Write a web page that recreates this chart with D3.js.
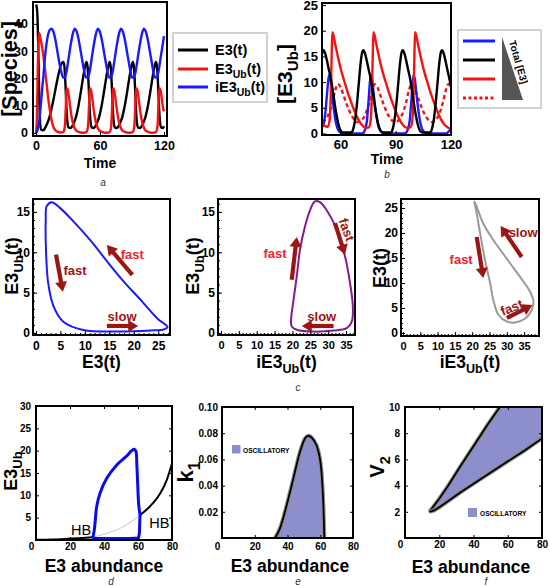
<!DOCTYPE html>
<html><head><meta charset="utf-8">
<script src="https://cdn.jsdelivr.net/npm/d3@7"></script>
<style>body{margin:0;background:#fff}svg{display:block}</style>
</head><body><svg id="c" width="550" height="586"></svg>
<script>
// ---------------- DATA ----------------
// Panel a: time courses [t, value]
const aE3 = [[0,47],[0.8,46],[1.6,40],[2.4,26],[3.2,11],[4,3],[5,1.2],[6.5,1],[8,1.5],[10,3],[12,5],[14,8],[16,11.5],[18,15.5],[20,19.5],[22,23],[24,25.5],[25.6,26],
 [26.6,24.5],[27.6,18],[28.6,9],[29.6,3.5],[30.6,2],[32.1,1.8],[33.6,2.3],[35.6,3.8],[37.6,6],[39.6,9.5],[41.6,14],[43.6,19],[45.6,23.5],[47.3,26],
 [48.3,24.5],[49.3,18],[50.3,9],[51.3,3.5],[52.3,2],[53.8,1.8],[55.3,2.3],[57.3,3.8],[59.3,6],[61.3,9.5],[63.3,14],[65.3,19],[67.3,23.5],[69,26],
 [70,24.5],[71,18],[72,9],[73,3.5],[74,2],[75.5,1.8],[77,2.3],[79,3.8],[81,6],[83,9.5],[85,14],[87,19],[89,23.5],[90.7,26],
 [91.7,24.5],[92.7,18],[93.7,9],[94.7,3.5],[95.7,2],[97.2,1.8],[98.7,2.3],[100.7,3.8],[102.7,6],[104.7,9.5],[106.7,14],[108.7,19],[110.7,23.5],[112.4,26],
 [113.4,24.5],[114.4,18],[115.4,9],[116.4,3.5],[117.4,2],[118.9,1.8],[120,2.5]];
const aE3Ub = [[0,0],[0.8,5],[1.6,22],[2.4,34],[3.1,36.6],[4,35],[5.5,32],[7,28],[8.5,23],[10,18],[11.5,12.5],[13,8.4],[14.5,5],[16,2.5],[18,1.1],[20,0.5],[23,0.2],[25.6,0.3],
 [26.4,1],[27.2,3],[27.9,9],[28.5,15],[29.1,16.3],[29.8,15.8],[30.6,14],[31.6,11],[32.6,8],[33.6,5.5],[35.1,3],[36.6,1.5],[38.6,0.6],[41.6,0.2],[44.6,0.1],[47.3,0.3],
 [48.1,1],[48.9,3],[49.6,9],[50.2,15],[50.8,16.3],[51.5,15.8],[52.3,14],[53.3,11],[54.3,8],[55.3,5.5],[56.8,3],[58.3,1.5],[60.3,0.6],[63.3,0.2],[66.3,0.1],[69,0.3],
 [69.8,1],[70.6,3],[71.3,9],[71.9,15],[72.5,16.3],[73.2,15.8],[74,14],[75,11],[76,8],[77,5.5],[78.5,3],[80,1.5],[82,0.6],[85,0.2],[88,0.1],[90.7,0.3],
 [91.5,1],[92.3,3],[93,9],[93.6,15],[94.2,16.3],[94.9,15.8],[95.7,14],[96.7,11],[97.7,8],[98.7,5.5],[100.2,3],[101.7,1.5],[103.7,0.6],[106.7,0.2],[109.7,0.1],[112.4,0.3],
 [113.2,1],[114,3],[114.7,9],[115.3,15],[115.9,16.3],[116.6,15.8],[117.4,14],[118.4,11],[119.2,9],[120,8]];
const aiE3Ub = [[0,0],[1,0.5],[2,2],[3,4],[4,8],[5,12.5],[6,17],[7,21],[8,26],[9,30],[10,33],[11,35.5],[12,37],[13.5,38],[14.7,38.2],[16,37.5],[18,34.5],[20,30],[22,25.5],[24,22],[25.6,20.3],
 [27.1,20.5],[28.6,22.5],[30.6,27.5],[32.6,32.5],[34.6,36.5],[36.4,38.2],[38.1,37.2],[40.1,34],[42.1,29.5],[44.1,25],[45.8,21.5],[47.3,20.3],
 [48.8,20.5],[50.3,22.5],[52.3,27.5],[54.3,32.5],[56.3,36.5],[58.1,38.2],[59.8,37.2],[61.8,34],[63.8,29.5],[65.8,25],[67.5,21.5],[68.9,20.3],
 [70.4,20.5],[71.9,22.5],[73.9,27.5],[75.9,32.5],[77.9,36.5],[79.7,38.2],[81.4,37.2],[83.4,34],[85.4,29.5],[87.4,25],[89,21.5],[90.4,20.3],
 [91.9,20.5],[93.4,22.5],[95.4,27.5],[97.4,32.5],[99.4,36.5],[101.2,38.2],[102.9,37.2],[104.9,34],[106.9,29.5],[108.9,25],[110.4,21.5],[111.8,20.3],
 [113.3,20.5],[114.8,22.5],[116.8,27.5],[118.8,32.5],[120,35.5]];
const aXTicks = [0,60,120], aYTicks = [0,10,20,30,40];

// Panel b: E3Ub for four total-E3 levels
const bBlue = [[50,1.2],[51,2],[51.8,4],[52.8,8],[53.8,11.4],[54.6,10.5],[55.5,7.5],[56.5,4.5],[57.5,2.2],[58.5,0.9],[60,0.2],[62,0],
 [72,0],[73.4,0.8],[74.4,2.5],[75.4,7],[76.4,11.4],[77.2,10.5],[78.1,7.5],[79.1,4.5],[80.1,2.2],[81.1,0.9],[82.6,0.2],[84.6,0],
 [95,0],[96.6,0.8],[97.6,2.5],[98.6,7],[99.6,11.4],[100.4,10.5],[101.3,7.5],[102.3,4.5],[103.3,2.2],[104.3,0.9],[105.8,0.2],[107.8,0],
 [117.5,0],[119,0.5],[120,1]];
const bBlack = [[50,15.5],[50.8,16.2],[51.8,15.5],[52.8,14],[53.8,12.3],[54.8,10.7],[55.8,8.5],[56.8,6],[57.8,3.8],[58.8,2],[59.8,0.8],[61.3,0.2],
 [65.9,0.2],[66.9,0.8],[67.9,2.5],[68.9,5.5],[69.9,9.5],[70.9,13.5],[71.8,15.8],[72.4,16.2],[73.4,15.5],[74.4,14],[75.4,12.3],[76.4,10.7],[77.4,8.5],[78.4,6],[79.4,3.8],[80.4,2],[81.4,0.8],[82.9,0.2],
 [87.3,0.2],[88.3,0.8],[89.3,2.5],[90.3,5.5],[91.3,9.5],[92.3,13.5],[93.2,15.8],[93.8,16.2],[94.8,15.5],[95.8,14],[96.8,12.3],[97.8,10.7],[98.8,8.5],[99.8,6],[100.8,3.8],[101.8,2],[102.8,0.8],[104.3,0.2],
 [108.6,0.2],[109.6,0.8],[110.6,2.5],[111.6,5.5],[112.6,9.5],[113.6,13.5],[114.5,15.8],[115.1,16.2],[116.1,15.5],[117.1,14],[118.1,12.3],[119.1,10.7],[120,9]];
const bRed = [[50,1.8],[52,1.4],[53.1,1.3],[54.1,2.5],[54.8,8],[55.3,16],[55.6,19.7],[56.1,19.3],[57.1,17.5],[58.6,15],[60.6,12],[62.6,9.6],[64.6,7.3],[66.1,5.8],[67.6,4.4],[69.6,2.8],[71.6,1.7],[73.6,1.1],[75.4,1.2],
 [76.4,2.5],[77.1,8],[77.6,16],[77.9,19.7],[78.4,19.3],[79.4,17.5],[80.9,15],[82.9,12],[84.9,9.6],[86.9,7.3],[88.4,5.8],[89.9,4.4],[91.9,2.8],[93.9,1.7],[95.9,1.1],[98,1.2],
 [99,2.5],[99.7,8],[100.2,16],[100.5,19.7],[101,19.3],[102,17.5],[103.5,15],[105.5,12],[107.5,9.6],[109.5,7.3],[111,5.8],[112.5,4.4],[114.5,2.8],[116.5,1.7],[118.5,1.1],[120,0.9]];
const bRedDashed = [[50,2.4],[51.6,2.6],[53.6,3.8],[55.6,6],[57.1,8.3],[58.6,9.6],[60.1,9],[61.6,7.5],[63.6,5.5],[65.6,3.8],[67.6,2.7],[69.6,2.2],
 [71.6,2.6],[73.6,3.8],[75.6,6],[77.1,8.3],[78.6,9.6],[80.1,9],[81.6,7.5],[83.6,5.5],[85.6,3.8],[87.6,2.7],[89.6,2.2],
 [91.6,2.6],[93.6,3.8],[95.6,6],[97.1,8.3],[98.6,9.6],[100.1,9],[101.6,7.5],[103.6,5.5],[105.6,3.8],[107.6,2.7],[109.6,2.2],
 [111.6,2.6],[113.6,3.8],[115.6,6],[117.1,8.3],[118.6,9.6],[120,9.2]];
const bXTicks = [60,90,120], bYTicks = [0,5,10,15,20,25];

// Panel c: phase-plane limit cycles [x, y]
const c1Loop = [[3.2,16.2],[2.2,15.7],[2.0,14],[2.05,10.3],[2.5,6.2],[3.6,3.3],[5.6,1.4],[9.7,0.37],[16.6,0.17],[23.4,0.3],[26.2,0.45],[26.9,0.75],[26.3,1.1],[24.8,1.8],[21.4,4.1],[17.9,6.4],[14.5,8.9],[11.1,11.5],[7.7,13.8],[4.9,15.5]];
const c2Loop = [[35.2,0.6],[31.5,0.3],[25.9,0.17],[21.2,0.4],[19.8,0.8],[19.6,1.6],[20.3,4.1],[21.2,7],[22.1,10.3],[23.5,13.2],[24.9,15.2],[26.3,16.3],[27.7,16.2],[29.6,15.2],[32.4,12.8],[34.7,9.5],[36.1,6.2],[36.9,3.3],[36.6,1.4]];
const c3Loop = [[20.6,26.3],[21.3,23.9],[22.3,19.9],[23.7,14.6],[25.2,9.9],[26.1,6.6],[27.6,3.6],[30,2.3],[32.4,2.1],[35.3,2.9],[37.2,4.6],[37.7,6.3],[36.7,8.3],[34.8,10.3],[31,13.9],[26.1,18.6],[23.2,21.9],[21.1,25.6]];
const c1XTicks = [0,5,10,15,20,25], c23XTicks = [0,5,10,15,20,25,30,35];
const c12YTicks = [0,5,10,15], c3YTicks = [0,5,10,15,20,25];
// arrows: [x1,y1,x2,y2] in data units; labels: [text, x, y, colour kind, rotation]
const c1Arrows = [[4.1,9.7,5.5,5.1],[19.7,7.2,14.5,10.9],[14.5,0.87,20.9,0.87]];
const c1Labels = [["fast",8,7.7,"dark",0],["fast",19.7,9.7,"bright",0],["slow",17.6,2.1,"dark",0]];
const c2Arrows = [[19.8,6.6,21.2,11.9],[31.9,13.6,34.7,9.7],[31.5,0.87,22.6,0.87]];
const c2Labels = [["fast",15.1,9.9,"bright",0],["fast",35.2,12.8,"dark",70],["slow",28.2,2.1,"dark",0]];
const c3Arrows = [[34.3,15.2,28.2,21.4],[21.3,19.2,23.2,11],[30,3,37.4,5.6]];
const c3Labels = [["slow",34.7,20.2,"dark",0],["fast",16.8,14.8,"bright",0],["fast",31.4,5.1,"dark",-22]];

// Panel d: bifurcation diagram
const dStableLow = [[0,0.05],[10,0.1],[17,0.25],[25,0.4],[33.5,0.6]];
const dUnstable = [[33.5,0.6],[41.6,1.5],[49.4,2.6],[55.3,3.9],[61.2,5.6]];
const dStableHigh = [[61.2,5.6],[67,7.5],[73,10.4],[76.9,13.4],[80,17.2]];
const dCycleMax = [[33.5,0.6],[34.2,2],[34.7,3.7],[35.7,7.5],[37.6,10.4],[41.6,13.8],[47.5,16.8],[53.3,18.8],[56.3,20],[57.8,20.3],[58.8,19.8],[59.3,17],[59.8,12.7],[60.4,8],[61.2,5.6]];
const dCycleMin = [[61.2,5.6],[60.8,1.5],[60.3,0.45],[55,0.35],[40,0.35],[34.2,0.4],[33.5,0.6]];
const dXTicks = [0,20,40,60,80], dYTicks = [5,10,15,20,25,30];
// Panel e: oscillatory region in (E3, k1)
const eBoundary = [[32.4,0],[35.4,0.0074],[39.5,0.025],[43.6,0.0455],[47.7,0.066],[50.7,0.076],[52.7,0.078],[55.8,0.075],[58.9,0.066],[60.9,0.048],[61.9,0.025],[62.5,0]];
const eXTicks = [0,20,40,60,80], eYTicks = [0.02,0.04,0.06,0.08,0.10];
// Panel f: oscillatory region in (E3, V2)
const fUpper = [[14.2,2.0],[16,2.3],[20,3.0],[25,3.95],[32,5.4],[40,7.0],[48,8.6],[55.4,10]];
const fLower = [[14.2,2.0],[17,2.1],[20,2.35],[25,2.8],[32,3.45],[40,4.15],[50,5.0],[60,5.85],[70,6.7],[80,7.6]];
const fXTicks = [0,20,40,60,80], fYTicks = [2,4,6,8,10];

// ---------------- DRAWING ----------------
const FONT = '"Liberation Sans", Arial, Helvetica, sans-serif';
const svg = d3.select('#c');
const DARK = '#9b1515', BRIGHT = '#f2232b';
let clipN = 0;

function panel(o){
  const x = d3.scaleLinear().domain(o.xd).range([o.l,o.r]);
  const y = d3.scaleLinear().domain(o.yd).range([o.b,o.t]);
  const g = svg.append('g');
  const id = 'clip'+(++clipN);
  svg.append('clipPath').attr('id',id).append('rect').attr('x',o.l).attr('y',o.t).attr('width',o.r-o.l).attr('height',o.b-o.t);
  const plot = g.append('g').attr('clip-path',`url(#${id})`);
  const ts = o.ts||4;
  const style = a => { a.select('.domain').remove(); a.selectAll('line').attr('stroke','#000').attr('stroke-width',1);
    a.selectAll('text').attr('font-family',FONT).attr('font-weight','bold').attr('fill','#000'); };
  if (o.xm) g.append('g').attr('transform',`translate(0,${o.b})`).call(d3.axisBottom(x).tickValues(o.xm).tickSize(-2).tickFormat('')).call(style);
  if (o.ym) g.append('g').attr('transform',`translate(${o.l},0)`).call(d3.axisLeft(y).tickValues(o.ym).tickSize(-2).tickFormat('')).call(style);
  const ax = g.append('g').attr('transform',`translate(0,${o.b})`)
    .call(d3.axisBottom(x).tickValues(o.xt).tickSize(-ts).tickPadding(o.xp).tickFormat(o.xf||(d=>d))).call(style);
  const ay = g.append('g').attr('transform',`translate(${o.l},0)`)
    .call(d3.axisLeft(y).tickValues(o.yt).tickSize(-ts).tickPadding(o.yp).tickFormat(o.yf||(d=>d))).call(style);
  ax.selectAll('text').attr('font-size',o.xfs);
  ay.selectAll('text').attr('font-size',o.yfs);
  if (o.mirror){
    g.append('g').attr('transform',`translate(0,${o.t})`).call(d3.axisTop(x).tickValues(o.xt).tickSize(-ts).tickFormat('')).call(style);
    g.append('g').attr('transform',`translate(${o.r},0)`).call(d3.axisRight(y).tickValues(o.yt).tickSize(-ts).tickFormat('')).call(style);
  }
  return {x,y,g,plot,ax,ay,frame(){
    g.append('rect').attr('x',o.l).attr('y',o.t).attr('width',o.r-o.l).attr('height',o.b-o.t)
     .attr('fill','none').attr('stroke','#000').attr('stroke-width',o.fw||2);
  }};
}

function rich(x, y, parts, fs, opts={}){
  const t = svg.append('text').attr('font-family',FONT).attr('font-weight',opts.weight||'bold')
    .attr('font-size',fs).attr('fill',opts.fill||'#000').attr('text-anchor',opts.anchor||'middle')
    .attr('font-style',opts.style||'normal');
  t.attr('transform',`translate(${x},${y})`+(opts.rotate?` rotate(${opts.rotate})`:''));
  let shift = 0;
  parts.forEach(p=>{
    const sub = Array.isArray(p), s = sub?p[0]:p, target = sub?fs*0.3:0;
    const ts = t.append('tspan').text(s).attr('dy',target-shift);
    if (sub) ts.attr('font-size',fs*0.72);
    shift = target;
  });
  return t;
}

function arrow(g, x1,y1,x2,y2,col){
  const dx=x2-x1, dy=y2-y1, L=Math.hypot(dx,dy), ux=dx/L, uy=dy/L;
  const hl=10, hw=6, bx=x2-ux*hl, by=y2-uy*hl;
  g.append('line').attr('x1',x1).attr('y1',y1).attr('x2',bx+ux).attr('y2',by+uy).attr('stroke',col).attr('stroke-width',4.2);
  g.append('path').attr('d',`M${x2},${y2}L${bx-uy*hw},${by+ux*hw}L${bx+uy*hw},${by-ux*hw}Z`).attr('fill',col);
}

const lineT = (p,curve)=>d3.line().x(d=>p.x(d[0])).y(d=>p.y(d[1])).curve(curve||d3.curveMonotoneX);

// ---- Panel a ----
{
  const p = panel({l:33,r:167,t:2,b:136,xd:[-2.8,122.8],yd:[-1.1,48],xt:aXTicks,yt:aYTicks,xp:5,yp:5,xfs:12.5,yfs:12.5});
  [[aE3,'#000'],[aE3Ub,'#f41212'],[aiE3Ub,'#1a1aff']].forEach(([d,c])=>
    p.plot.append('path').attr('d',lineT(p)(d)).attr('fill','none').attr('stroke',c).attr('stroke-width',2.4));
  p.frame();
  rich(100,168,['Time'],14);
  rich(17,69,['[Species]'],21.5,{rotate:-90});
  svg.append('rect').attr('x',173).attr('y',33).attr('width',94).attr('height',69).attr('fill','#fff').attr('stroke','#c4c4c4').attr('stroke-width',1.5);
  const leg = [['#000',['E3(t)']],['#f41212',['E3',['Ub'],'(t)']],['#1a1aff',['iE3',['Ub'],'(t)']]];
  leg.forEach(([c,parts],i)=>{
    const yy = [50,69,87][i];
    svg.append('line').attr('x1',178).attr('x2',208).attr('y1',yy).attr('y2',yy).attr('stroke',c).attr('stroke-width',3);
    rich(215,yy+5,parts,14.5,{anchor:'start'});
  });
  rich(103,186,['a'],10,{weight:'normal',style:'italic',fill:'#333'});
}

// ---- Panel b ----
{
  const p = panel({l:322,r:451,t:3,b:135,xd:[50,120],yd:[-0.3,25.4],xt:bXTicks,yt:bYTicks,xp:5,yp:4,xfs:13,yfs:13});
  [[bRedDashed,'#f41212','4,3'],[bBlue,'#1a1aff',null],[bRed,'#f41212',null],[bBlack,'#000',null]].forEach(([d,c,da])=>{
    const path = p.plot.append('path').attr('d',lineT(p)(d)).attr('fill','none').attr('stroke',c).attr('stroke-width',2.4);
    if (da) path.attr('stroke-dasharray',da);
  });
  p.frame();
  rich(387,164,['Time'],14);
  rich(292,74,['[E3',['Ub'],']'],21,{rotate:-90});
  svg.append('rect').attr('x',458).attr('y',30).attr('width',83).attr('height',78).attr('fill','#fff').attr('stroke','#c4c4c4').attr('stroke-width',1.5);
  [['#1a1aff',null],['#000',null],['#f41212',null],['#f41212','3,2.5']].forEach(([c,da],i)=>{
    const yy=[41,60,79,98][i];
    const l = svg.append('line').attr('x1',463).attr('x2',495).attr('y1',yy).attr('y2',yy).attr('stroke',c).attr('stroke-width',3);
    if (da) l.attr('stroke-dasharray',da);
  });
  svg.append('path').attr('d','M502,37L502,100L523,100Z').attr('fill','#555');
  rich(515,63,['Total [E3]'],10,{rotate:74,anchor:'middle'});
  rich(387,178,['b'],10,{weight:'normal',style:'italic',fill:'#333'});
}

// ---- Panel c ----
function cPanel(o, loop, col, arrows, labels, xTitle, yTitle){
  const p = panel(o);
  p.plot.append('path').attr('d',lineT(p,d3.curveCatmullRomClosed.alpha(0.5))(loop)).attr('fill','none').attr('stroke',col).attr('stroke-width',2);
  arrows.forEach(a=>arrow(p.g,p.x(a[0]),p.y(a[1]),p.x(a[2]),p.y(a[3]),DARK));
  labels.forEach(([s,lx,ly,k,rot])=>{
    svg.append('text').attr('font-family',FONT).attr('font-weight','bold').attr('font-size',13)
      .attr('fill',k==='dark'?DARK:BRIGHT).attr('text-anchor','middle').attr('dominant-baseline','central')
      .attr('transform',`translate(${p.x(lx)},${p.y(ly)}) rotate(${rot})`).text(s);
  });
  p.frame();
  rich((o.l+o.r)/2,368,xTitle,17.5);
  rich(o.yx,o.yc,yTitle,18,{rotate:-90});
}
cPanel({l:33,r:170,t:199,b:335,xd:[-0.6,27.4],yd:[-0.25,16.6],xt:c1XTicks,yt:c12YTicks,xp:6,yp:3,xfs:12,yfs:12,
        xm:d3.range(0,28,1),ym:d3.range(0,17,1),yx:18,yc:266},
  c1Loop,'#1a1aff',c1Arrows,c1Labels,['E3(t)'],['E3',['Ub'],'(t)']);
cPanel({l:218,r:355,t:199,b:335,xd:[-0.84,37.5],yd:[-0.25,16.6],xt:c23XTicks,yt:c12YTicks,xp:6,yp:3,xfs:11,yfs:12,
        xm:d3.range(0,38,1),ym:d3.range(0,17,1),yx:199,yc:266},
  c2Loop,'#87188f',c2Arrows,c2Labels,['iE3',['Ub'],'(t)'],['E3',['Ub'],'(t)']);
cPanel({l:401,r:539,t:199,b:336,xd:[-0.58,39.3],yd:[-0.6,26.8],xt:c23XTicks,yt:c3YTicks,xp:6,yp:3,xfs:11,yfs:12,
        xm:d3.range(0,40,1),ym:d3.range(0,27,1),yx:386,yc:268},
  c3Loop,'#9a9a9a',c3Arrows,c3Labels,['iE3',['Ub'],'(t)'],['E3(t)']);
rich(298,391,['c'],10,{weight:'normal',style:'italic',fill:'#333'});

// ---- Panel d ----
{
  const p = panel({l:36,r:172,t:406,b:540,xd:[0,80],yd:[0,30],xt:dXTicks,yt:dYTicks,xp:3,yp:5,xfs:10,yfs:10,mirror:true,ts:3});
  p.plot.append('path').attr('d',lineT(p)(dUnstable)).attr('fill','none').attr('stroke','#c8c8c8').attr('stroke-width',1);
  p.plot.append('path').attr('d',lineT(p)(dStableLow)).attr('fill','none').attr('stroke','#000').attr('stroke-width',2);
  p.plot.append('path').attr('d',lineT(p)(dStableHigh)).attr('fill','none').attr('stroke','#000').attr('stroke-width',2);
  const loop = lineT(p,d3.curveCatmullRom.alpha(0.5))(dCycleMax) + lineT(p,d3.curveLinear)(dCycleMin).replace(/^M/,'L');
  p.plot.append('path').attr('d',loop).attr('fill','none').attr('stroke','#0a0af0').attr('stroke-width',3).attr('stroke-linejoin','round');
  p.frame();
  p.ax.selectAll('text').filter(d=>d===0).attr('dx',-5);
  rich(p.x(26.5),535,['HB'],14.5,{weight:'normal'});
  rich(p.x(72.5),528,['HB'],14.5,{weight:'normal'});
  rich(104,572,['E3 abundance'],17.5);
  rich(17,471,['E3',['Ub']],18,{rotate:-90});
  rich(111,585,['d'],10,{weight:'normal',style:'italic',fill:'#333'});
}

// ---- Panel e ----
{
  const p = panel({l:222,r:353,t:407,b:538,xd:[0,80],yd:[0,0.1],xt:eXTicks,yt:eYTicks,xp:5,yp:4,xfs:10,yfs:10,mirror:true,ts:3,
                   yf:d3.format('.2f')});
  const area = d3.area().x(d=>p.x(d[0])).y0(p.y(0)).y1(d=>p.y(d[1])).curve(d3.curveMonotoneX);
  p.plot.append('path').attr('d',area(eBoundary)).attr('fill','#8d8fcd');
  p.plot.append('path').attr('d',lineT(p)(eBoundary)).attr('fill','none').attr('stroke','#8a8a8a').attr('stroke-width',4);
  p.plot.append('path').attr('d',lineT(p)(eBoundary)).attr('fill','none').attr('stroke','#000').attr('stroke-width',1.8);
  p.frame();
  p.ax.selectAll('text').filter(d=>d===0).attr('dx',-5);
  svg.append('rect').attr('x',232).attr('y',445).attr('width',8.5).attr('height',8.5).attr('fill','#8d8fcd');
  rich(243,452.5,['OSCILLATORY'],6.6,{anchor:'start'});
  rich(290,572,['E3 abundance'],17.5);
  rich(193,472,['k',['1']],22,{rotate:-90});
  rich(298,585,['e'],10,{weight:'normal',style:'italic',fill:'#333'});
}

// ---- Panel f ----
{
  const p = panel({l:405,r:542,t:407,b:538,xd:[0,80],yd:[0,10],xt:fXTicks,yt:fYTicks,xp:3,yp:5,xfs:10,yfs:10,mirror:true,ts:3});
  const poly = fUpper.concat([[80,10]], fLower.slice().reverse());
  p.plot.append('path').attr('d',lineT(p,d3.curveLinear)(poly)+'Z').attr('fill','#8d8fcd');
  [fUpper,fLower].forEach(d=>{
    p.plot.append('path').attr('d',lineT(p,d3.curveLinear)(d)).attr('fill','none').attr('stroke','#8a8a8a').attr('stroke-width',4);
    p.plot.append('path').attr('d',lineT(p,d3.curveLinear)(d)).attr('fill','none').attr('stroke','#000').attr('stroke-width',1.8);
  });
  p.frame();
  p.ax.selectAll('text').filter(d=>d===0).attr('dx',-5);
  svg.append('rect').attr('x',468).attr('y',508).attr('width',9).attr('height',9).attr('fill','#8d8fcd');
  rich(480,515.5,['OSCILLATORY'],6.6,{anchor:'start'});
  rich(471,573,['E3 abundance'],17.5);
  rich(384,467,['V',['2']],20,{rotate:-90});
  rich(486,585,['f'],10,{weight:'normal',style:'italic',fill:'#333'});
}
</script></body></html>
